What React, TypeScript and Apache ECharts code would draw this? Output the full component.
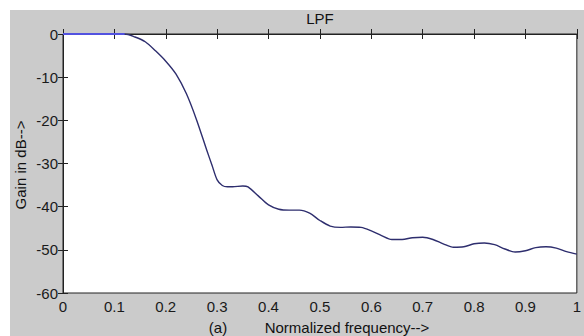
import React, { useEffect, useRef } from "react";
import * as echarts from "echarts";

const freq = [0, 0.05, 0.1, 0.12, 0.14, 0.16, 0.18, 0.2, 0.22, 0.24, 0.26, 0.28, 0.29, 0.3, 0.31, 0.32, 0.33, 0.35, 0.36, 0.38, 0.4, 0.42, 0.44, 0.46, 0.48, 0.5, 0.52, 0.54, 0.56, 0.58, 0.6, 0.62, 0.64, 0.66, 0.68, 0.7, 0.72, 0.74, 0.76, 0.78, 0.8, 0.82, 0.84, 0.86, 0.88, 0.9, 0.92, 0.94, 0.96, 0.98, 1.0];
const gain = [0, 0, 0, 0, -0.7, -1.8, -3.9, -6.3, -9.3, -13.8, -19.9, -27.0, -30.4, -33.8, -35.1, -35.4, -35.4, -35.2, -35.4, -37.5, -39.6, -40.6, -40.8, -40.8, -41.5, -43.2, -44.5, -44.8, -44.7, -44.8, -45.6, -46.7, -47.6, -47.6, -47.2, -47.1, -47.6, -48.6, -49.4, -49.3, -48.6, -48.4, -48.8, -49.8, -50.5, -50.2, -49.5, -49.3, -49.6, -50.4, -51.0];
const passbandFreq = [0, 0.12];
const passbandGain = [0, 0];

const titleText = "LPF";
const xLabel = "Normalized frequency-->";
const subLabel = "(a)";
const yLabel = "Gain in dB-->";

const FONT = "Liberation Sans, Arial, sans-serif";

export default function App() {
  const ref = useRef<HTMLDivElement>(null);
  useEffect(() => {
    if (!ref.current) return;
    const chart = echarts.init(ref.current, undefined, { renderer: "svg" });
    const main = freq.map((f, i) => [f, gain[i]]);
    const pass = passbandFreq.map((f, i) => [f, passbandGain[i]]);
    const axisLine = { show: true, lineStyle: { color: "#222", width: 1 } };
    chart.setOption({
      animation: false,
      backgroundColor: "#cbcbcb",
      grid: {
        left: 53, top: 24, right: 7, bottom: 43,
        show: true, backgroundColor: "#ffffff", borderColor: "#222", borderWidth: 1,
      },
      xAxis: [
        {
          type: "value", min: 0, max: 1, interval: 0.1, position: "bottom",
          axisLine, splitLine: { show: false },
          axisTick: { inside: true, length: 5, lineStyle: { color: "#222" } },
          axisLabel: { margin: 6, color: "#1a1a1a", fontSize: 15, fontFamily: FONT, showMinLabel: true, showMaxLabel: true },
        },
        {
          type: "value", min: 0, max: 1, interval: 0.1, position: "top",
          axisLine, splitLine: { show: false },
          axisTick: { inside: true, length: 5, lineStyle: { color: "#222" } },
          axisLabel: { show: false },
        },
      ],
      yAxis: [
        {
          type: "value", min: -60, max: 0, interval: 10, position: "left",
          axisLine, splitLine: { show: false },
          axisTick: { inside: true, length: 5, lineStyle: { color: "#222" } },
          axisLabel: { margin: 5, color: "#1a1a1a", fontSize: 15, fontFamily: FONT, showMinLabel: true, showMaxLabel: true },
        },
        {
          type: "value", min: -60, max: 0, interval: 10, position: "right",
          axisLine, splitLine: { show: false },
          axisTick: { inside: true, length: 5, lineStyle: { color: "#222" } },
          axisLabel: { show: false },
        },
      ],
      graphic: [
        { type: "text", x: 310, y: 8, style: { text: titleText, fontSize: 15, fontFamily: FONT, fill: "#111", align: "center", verticalAlign: "middle" } },
        { type: "text", x: 208, y: 317, style: { text: subLabel, fontSize: 15, fontFamily: FONT, fill: "#111", align: "center", verticalAlign: "middle" } },
        { type: "text", x: 337, y: 317, style: { text: xLabel, fontSize: 15, fontFamily: FONT, fill: "#111", align: "center", verticalAlign: "middle" } },
        { type: "text", x: 10, y: 155, rotation: Math.PI / 2, style: { text: yLabel, fontSize: 15, fontFamily: FONT, fill: "#111", align: "center", verticalAlign: "middle" } },
      ],
      series: [
        {
          type: "line", data: main, smooth: 0.3, showSymbol: false,
          lineStyle: { color: "#2e2e6e", width: 1.4 }, z: 3,
        },
        {
          type: "line", data: pass, showSymbol: false,
          lineStyle: { color: "#5252e0", width: 2 }, z: 4,
        },
      ],
    });
    return () => chart.dispose();
  }, []);
  return (
    <div style={{ position: "fixed", left: 0, top: 0, width: 584, height: 336, background: "#ffffff" }}>
      <div ref={ref} style={{ position: "absolute", left: 10, top: 10, width: 574, height: 326 }} />
    </div>
  );
}
